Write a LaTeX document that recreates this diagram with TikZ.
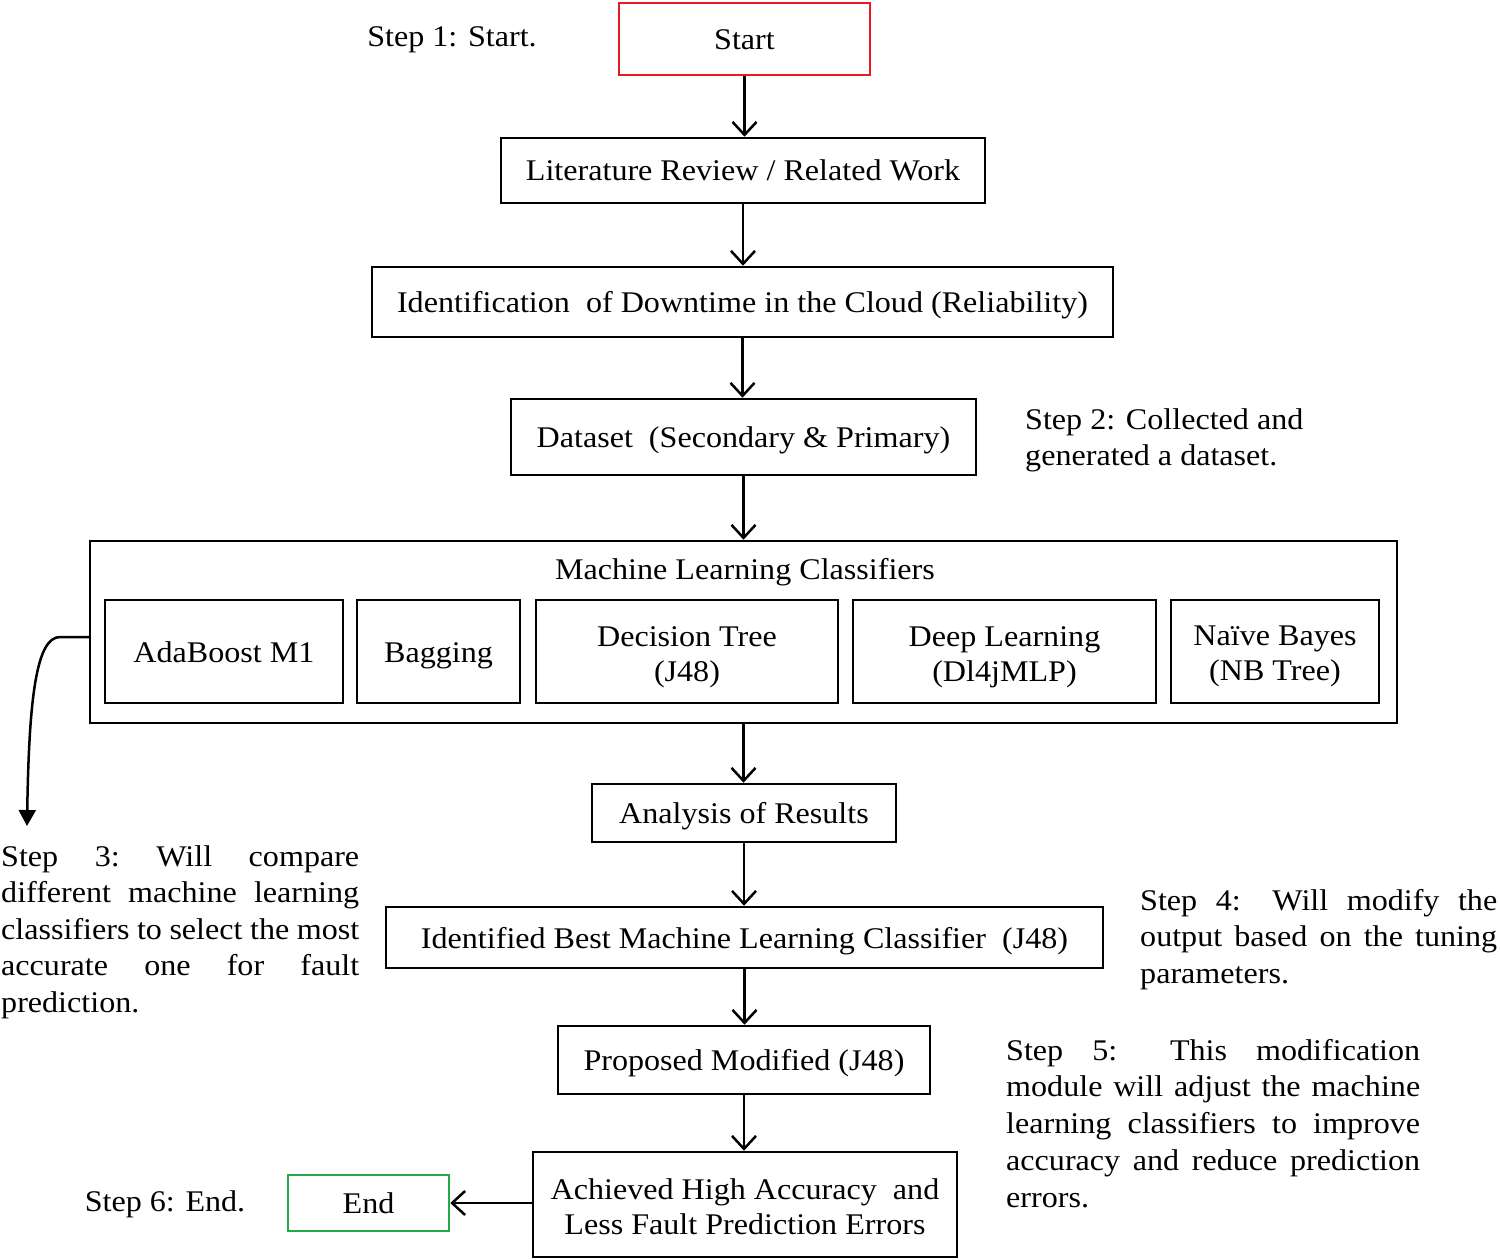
\documentclass[tikz,border=0pt]{standalone}
\usepackage{fontspec}
\setmainfont{Liberation Serif}[FakeStretch=1.07]
\usetikzlibrary{arrows.meta}
\definecolor{boxred}{RGB}{232,24,36}
\definecolor{boxgreen}{RGB}{36,168,72}
\newcommand{\upstrut}[1]{\rule{0pt}{#1}}
\begin{document}
\begin{tikzpicture}[x=1pt,y=-1pt,
  every node/.style={font=\fontsize{30}{35}\selectfont, inner sep=0pt},
  box/.style={draw, line width=2.5pt, align=center},
  oneline/.style={text height=21pt, text depth=0pt},
  flow/.style={line width=2.5pt, -{Straight Barb[length=13pt,width=24pt,line width=2.5pt]}},
  note/.style={anchor=base west}
]
\useasboundingbox (0,0) rectangle (1500,1260);

\node[box, oneline, draw=boxred, minimum width=251pt, minimum height=72pt] (start) at (744.5,39) {Start};
\node[box, oneline, minimum width=484pt, minimum height=65pt] (lit) at (743,170.5) {Literature Review / Related Work};
\node[box, oneline, minimum width=741pt, minimum height=70pt] (ident) at (742.5,302) {Identification\ \ of Downtime in the Cloud (Reliability)};
\node[box, oneline, minimum width=465pt, minimum height=76pt] (data) at (743.5,437) {Dataset\ \ (Secondary \& Primary)};

\node[box, minimum width=1307pt, minimum height=182pt] (ml) at (743.5,632) {};
\node[oneline] (mltitle) at (745,569) {Machine Learning Classifiers};
\node[box, oneline, minimum width=238pt, minimum height=103pt] (ada) at (224,651.5) {AdaBoost M1};
\node[box, oneline, minimum width=163pt, minimum height=103pt] (bag) at (438.5,651.5) {Bagging};
\node[box, minimum width=302pt, minimum height=103pt] (dt) at (687,651.5) {\upstrut{31pt}Decision Tree\\(J48)};
\node[box, minimum width=303pt, minimum height=103pt] (dl) at (1004.5,651.5) {\upstrut{31pt}Deep Learning\\(Dl4jMLP)};
\node[box, minimum width=208pt, minimum height=103pt] (nb) at (1275,651.5) {\upstrut{30pt}Naïve Bayes\\(NB Tree)};

\node[box, oneline, minimum width=304pt, minimum height=58pt] (ana) at (744,813) {Analysis of Results};
\node[box, oneline, minimum width=717pt, minimum height=61pt] (best) at (744.5,937.5) {Identified Best Machine Learning Classifier\ \ (J48)};
\node[box, oneline, minimum width=372pt, minimum height=68pt] (prop) at (744,1060) {Proposed Modified (J48)};
\node[box, minimum width=424pt, minimum height=105pt] (ach) at (745,1204.5) {\upstrut{25pt}Achieved High Accuracy\ \ and\\Less Fault Prediction Errors};
\node[box, oneline, draw=boxgreen, minimum width=161pt, minimum height=56pt] (end) at (368.5,1203) {End};

% step notes
\node[oneline] (s1) at (452,36) {Step 1: Start.};
\node[note] (s2) at (1025,429) {\parbox[t]{300pt}{\fontsize{30}{36.5}\selectfont\raggedright Step 2: Collected and\\generated a dataset.}};
\node[note] (s3) at (1,866) {\parbox[t]{358pt}{\fontsize{30}{36.6}\selectfont Step\ \ 3:\ \ Will\ \ compare\linebreak different machine learning\linebreak classifiers to select the most\linebreak accurate one for fault\linebreak prediction.}};
\node[note] (s4) at (1140,910) {\parbox[t]{357pt}{\fontsize{30}{36.5}\selectfont Step 4: Will modify the\linebreak output based on the tuning\linebreak parameters.}};
\node[note] (s5) at (1006,1060) {\parbox[t]{414pt}{\fontsize{30}{36.8}\selectfont Step 5: This modification\linebreak module will adjust the machine\linebreak learning classifiers to improve\linebreak accuracy and reduce prediction\linebreak errors.}};
\node[oneline] (s6) at (165,1201) {Step 6: End.};

% connectors
\draw[flow] (start.south) -- (start.south |- lit.north);
\draw[flow] (lit.south) -- (lit.south |- ident.north);
\draw[flow] (ident.south) -- (ident.south |- data.north);
\draw[flow] (data.south) -- (data.south |- ml.north);
\draw[flow] (ml.south) -- (ml.south |- ana.north);
\draw[flow] (ana.south) -- (ana.south |- best.north);
\draw[flow] (best.south) -- (best.south |- prop.north);
\draw[flow] (prop.south) -- (prop.south |- ach.north);
\draw[flow] (ach.west |- end.east) -- (end.east);

\coordinate (s3tip) at (27,826);
\draw[line width=2.5pt, -{Triangle[length=16pt,width=17pt]}]
  ([yshift=-5pt]ml.west) -- (60,637) .. controls (36,637) and (29,700) .. (s3tip);
\end{tikzpicture}
\end{document}
